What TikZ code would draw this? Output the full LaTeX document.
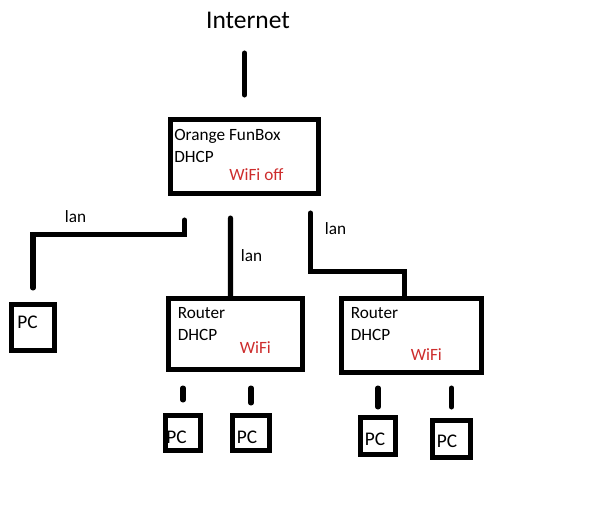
\documentclass[tikz,border=0pt]{standalone}
\usepackage{fontspec}
\setmainfont{Carlito}
\usetikzlibrary{calc,positioning}
\definecolor{wifired}{RGB}{205,45,45}

\begin{document}
\begin{tikzpicture}[
    x=0.02cm,y=-0.02cm,
    box/.style={draw,line width=2.9pt,inner sep=0pt},
    wire/.style={draw,line width=2.9pt,line cap=round},
    txt/.style={anchor=base west,inner sep=0pt,font=\fontsize{9.8}{12}\selectfont},
    pctxt/.style={txt,font=\fontsize{11}{13}\selectfont},
    wifitxt/.style={txt,text=wifired},
  ]

  \useasboundingbox (0,0) rectangle (615,518);

  \node (inet) at (248,28) [anchor=base,inner sep=0pt,font=\fontsize{14.5}{17}\selectfont] {Internet};

  % funbox

  \node (funbox) at (244.5,156.5) [box,minimum width=2.96cm,minimum height=1.48cm] {};
  \node (funbox-name) at ($(funbox.north west) + (6,24)$) [txt] {Orange FunBox};
  \node (funbox-dhcp) at ($(funbox.north west) + (6,46)$) [txt] {DHCP};
  \node (funbox-wifi) at ($(funbox.north west) + (61,63.5)$) [wifitxt] {WiFi off};

  \draw[wire,shorten <=0.44cm,shorten >=0.49cm] (funbox.north) -- (funbox.north |- inet.south);

  % routers

  \node (r1) at (235.5,334) [box,minimum width=2.68cm,minimum height=1.42cm] {};
  \node (r1-name) at ($(r1.north west) + (11.5,23)$) [txt] {Router};
  \node (r1-dhcp) at ($(r1.north west) + (11.5,45)$) [txt] {DHCP};
  \node (r1-wifi) at ($(r1.north west) + (73.5,57.5)$) [wifitxt] {WiFi};

  \node (r2) at (411.5,335.5) [box,minimum width=2.8cm,minimum height=1.48cm] {};
  \node (r2-name) at ($(r2.north west) + (11.5,23)$) [txt] {Router};
  \node (r2-dhcp) at ($(r2.north west) + (11.5,45)$) [txt] {DHCP};
  \node (r2-wifi) at ($(r2.north west) + (71.5,64.5)$) [wifitxt] {WiFi};

  % pcs

  \node (pcl) at (33,327.5) [box,minimum width=0.86cm,minimum height=0.92cm] {};
  \node (pca) at (183,433) [box,minimum width=0.7cm,minimum height=0.7cm] {};
  \node (pcb) at (251,433) [box,minimum width=0.74cm,minimum height=0.7cm] {};
  \node (pcc) at (378,436) [box,minimum width=0.7cm,minimum height=0.74cm] {};
  \node (pcd) at (451.5,439) [box,minimum width=0.76cm,minimum height=0.74cm] {};

  \foreach \n/\dx/\dy in {pcl/8/26.5,pca/3/31,pcb/6.5/31,pcc/6.5/31,pcd/6.5/30}
    \node (\n-txt) at ($(\n.north west) + (\dx,\dy)$) [pctxt] {PC};

  % lan links

  \draw[wire,shorten <=0.48cm,shorten >=0.28cm] ($(funbox.south west) + (16.5,0)$) -- ++(0,38.5) -| (pcl.north);
  \node (lan-l) at ($(funbox.south west) + (-103.5,26.5)$) [txt] {lan};

  \draw[wire,shorten <=0.44cm] ($(funbox.south west) + (62.5,0)$) -- ($(r1.north west) + (64.5,0)$);
  \node (lan-m) at ($(funbox.south west) + (72.5,65.5)$) [txt] {lan};

  \draw[wire,shorten <=0.34cm] ($(funbox.south east) + (-10.5,0)$) -- ++(0,75.5) -| ($(r2.north west) + (65.5,0)$);
  \node (lan-r) at ($(funbox.south east) + (3.5,38.5)$) [txt] {lan};

  % router to pc

  \draw[wire,shorten <=0.32cm,shorten >=0.26cm] (r1.south -| pca.north) -- (pca.north);
  \draw[wire,shorten <=0.32cm,shorten >=0.20cm] (r1.south -| pcb.north) -- (pcb.north);
  \draw[wire,shorten <=0.26cm,shorten >=0.16cm] (r2.south -| pcc.north) -- (pcc.north);
  \draw[wire,shorten <=0.26cm,shorten >=0.22cm] (r2.south -| pcd.north) -- (pcd.north);

\end{tikzpicture}
\end{document}
